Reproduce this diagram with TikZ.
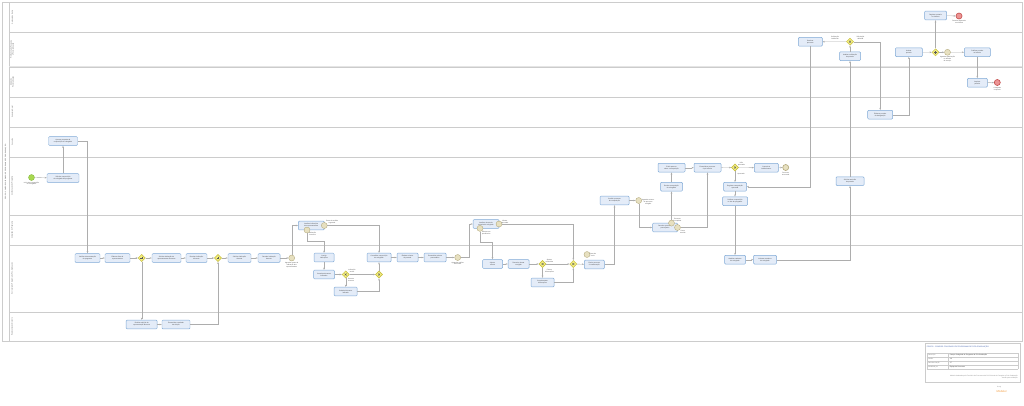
\documentclass[tikz,border=0pt]{standalone}
\usepackage{fontspec}
\setmainfont{Liberation Sans}
\usetikzlibrary{positioning, arrows.meta, shapes.geometric}

\definecolor{taskfill}{HTML}{E4ECF8}
\definecolor{taskline}{HTML}{7EA9D6}
\definecolor{flowline}{HTML}{ADADAD}
\definecolor{laneline}{HTML}{CCCCCC}
\definecolor{gatefill}{HTML}{F3EE7E}
\definecolor{gateline}{HTML}{C4BA3E}
\definecolor{midfill}{HTML}{E7E0C0}
\definecolor{midline}{HTML}{B3A97C}
\definecolor{startfill}{HTML}{A8D850}
\definecolor{startline}{HTML}{84B83C}
\definecolor{endfill}{HTML}{EC9494}
\definecolor{endline}{HTML}{C4504E}
\definecolor{titleblue}{HTML}{3A5BA8}
\definecolor{bizorange}{HTML}{F29A3C}

\newcommand{\tsz}{\fontsize{2.3}{2.8}\selectfont}
\newcommand{\ttsz}{\fontsize{2.6}{3.1}\selectfont}

\tikzset{
    >={Stealth[length=1.1mm, width=0.8mm]},
    flow/.style={->, draw=flowline, line width=0.45pt},
    lane/.style={draw=laneline, line width=0.6pt},
    task/.style={draw=taskline, fill=taskfill, line width=0.7pt, rounded corners=0.5mm,
        minimum width=#1, minimum height=4.4mm, inner sep=0.3mm, align=center,
        font=\tsz, text=black!75},
    task/.default=12mm,
    gate/.style={diamond, draw=gateline, fill=gatefill, line width=0.6pt,
        minimum size=3.6mm, inner sep=0pt},
    gatemark/.style={draw=black!65, line width=0.5pt},
    evstart/.style={circle, draw=startline, fill=startfill, line width=0.5pt,
        minimum size=3mm, inner sep=0pt},
    evmid/.style={circle, draw=midline, fill=midfill, line width=0.5pt,
        minimum size=3mm, inner sep=0pt},
    evend/.style={circle, draw=endline, fill=endfill, line width=0.9pt,
        minimum size=3mm, inner sep=0pt},
    lbl/.style={font=\tsz, align=center, inner sep=0.2mm, text=black!70},
    lanelbl/.style={font=\tsz, align=center, inner sep=0pt, text=black!70, rotate=90}
}

\begin{document}
\begin{tikzpicture}[x=0.5mm, y=-0.5mm]
    \useasboundingbox (0,0) rectangle (1024,405);

    % pool and lanes
    \draw[lane] (2,2.5) rectangle (1021.7,341.7);
    \draw[lane] (9.3,2.5) -- (9.3,341.7);
    \fill[black!10] (9.3,66) rectangle (1021.7,68);
    \foreach \y in {32,67,97,127,157,215,245,312}
        \draw[lane] (9.3,\y) -- (1021.7,\y);

    \node[lanelbl] (pool) at (5.7,172) {PROPG - COMPOR COLEGIADO DE PROGRAMA DE PÓS-GRADUAÇÃO};
    \node[lanelbl] (l1) at (12.3,17.3) {Gabinete do Reitor};
    \node[lanelbl] (l2) at (12.3,49.5) {Pró-Reitoria de Pesquisa\\ e Pós-Graduação};
    \node[lanelbl] (l3) at (12.3,82) {Divisão de\\ Pós-Graduação};
    \node[lanelbl] (l4) at (12.3,112) {Secretaria Geral};
    \node[lanelbl] (l5) at (12.3,142) {Conselho};
    \node[lanelbl] (l6) at (12.3,186) {Coordenação do Programa};
    \node[lanelbl] (l7) at (12.3,230) {Colegiado do Programa};
    \node[lanelbl] (l8) at (12.3,278.5) {Secretaria do Programa de Pós-Graduação};
    \node[lanelbl] (l9) at (12.3,326.8) {Representação Discente};

    % tasks
    \node[task=16mm] (t1) at (63,178) {Solicitar composição\\ do colegiado do programa};
    \node[task=14.5mm] (t2) at (63,141) {Aprovar proposta de\\ composição do colegiado};
    \node[task=12.5mm] (t3) at (87.5,258) {Verificar documentação\\ do programa};
    \node[task=12.5mm] (t4) at (117.5,258) {Elaborar lista de\\ representantes};
    \node[task=14.5mm] (t5) at (166.5,258) {Solicitar indicação de\\ representantes discentes};
    \node[task=10.5mm] (t6) at (196.5,258) {Receber indicação\\ discente};
    \node[task=11.5mm] (t7) at (239.5,258) {Solicitar indicação\\ docente};
    \node[task=11mm] (t8) at (269,258) {Receber indicação\\ docente};
    \node[task=15.5mm] (t9) at (141.7,324.5) {Realizar eleição da\\ representação discente};
    \node[task=14mm] (t10) at (176,324.5) {Encaminhar resultado\\ da eleição};
    \node[task=13mm] (t11) at (311.3,225.5) {Analisar indicações\\ dos representantes};
    \node[task=10mm] (t12) at (324,257.5) {Corrigir\\ indicações};
    \node[task=10.5mm] (t13) at (324,274.5) {Consultar docentes\\ indicados};
    \node[task=11.5mm] (t14) at (345.7,291.5) {Substituir docente\\ indicado};
    \node[task=12mm] (t15) at (379,257.5) {Consolidar composição\\ do colegiado};
    \node[task=10.5mm] (t16) at (407.5,257.5) {Elaborar minuta\\ de portaria};
    \node[task=11mm] (t17) at (435,257.5) {Encaminhar minuta\\ para análise};
    \node[task=13mm] (t18) at (486,224) {Analisar minuta de\\ portaria do colegiado};
    \node[task=10mm] (t19) at (492.5,264) {Ajustar\\ minuta};
    \node[task=10.5mm] (t20) at (518.5,264) {Reenviar minuta\\ corrigida};
    \node[task=11.5mm] (t21) at (542.5,282.5) {Complementar\\ informações};
    \node[task=10mm] (t22) at (594.3,264.5) {Enviar processo\\ à coordenação};
    \node[task=14.5mm] (t23) at (614.5,200.5) {Conferir processo\\ de composição};
    \node[task=12.5mm] (t24) at (665,227.5) {Devolver processo\\ para ajustes};
    \node[task=11mm] (t25) at (671.5,186.7) {Revisar composição\\ do colegiado};
    \node[task=13.5mm] (t26) at (671.5,167.7) {Emitir parecer\\ sobre a composição};
    \node[task=13.5mm] (t27) at (707.5,167.7) {Encaminhar processo\\ à pró-reitoria};
    \node[task=12mm] (t28) at (766.3,167.7) {Comunicar\\ indeferimento};
    \node[task=11.5mm] (t29) at (735,186.7) {Registrar composição\\ aprovada};
    \node[task=12.5mm] (t30) at (735,201.2) {Publicar composição\\ no site do programa};
    \node[task=10.5mm] (t31) at (735,259.7) {Atualizar cadastro\\ do colegiado};
    \node[task=11.5mm] (t32) at (765,259.7) {Informar membros\\ do colegiado};
    \node[task=14mm] (t33) at (850,181.2) {Solicitar emissão\\ de portaria};
    \node[task=10.5mm] (t34) at (850,56.2) {Analisar solicitação\\ de portaria};
    \node[task=12mm] (t35) at (810.3,41.8) {Devolver\\ processo};
    \node[task=12.5mm] (t36) at (880.2,114.7) {Elaborar portaria\\ de designação};
    \node[task=13.5mm] (t37) at (908.8,52.2) {Assinar\\ portaria};
    \node[task=13mm] (t38) at (977.3,52.2) {Publicar portaria\\ no boletim};
    \node[task=11mm] (t39) at (935.5,15.5) {Registrar portaria\\ no sistema};
    \node[task=10mm] (t40) at (977.3,82.8) {Arquivar\\ portaria};

    % gateways
    \node[gate] (g1) at (141.7,258) {};
    \node[gate] (g2) at (218,258) {};
    \node[gate] (g3) at (345.7,274.5) {};
    \node[gate] (g4) at (379,274.5) {};
    \node[gate] (g5) at (542.5,264) {};
    \node[gate] (g6) at (573.3,264) {};
    \node[gate] (g7) at (735,167.5) {};
    \node[gate] (g8) at (850,41.7) {};
    \node[gate] (g9) at (935.5,52.3) {};
    \foreach \g in {g1,g2,g9}
        \draw[gatemark] (\g.center) +(0,-1.3) -- +(0,1.3) +(-1.3,0) -- +(1.3,0);
    \foreach \g in {g3,g4,g5,g6,g7,g8}
        \draw[gatemark] (\g.center) +(-1,-1) -- +(1,1) +(-1,1) -- +(1,-1);

    % events
    \node[evstart] (s0) at (31.5,177.5) {};
    \node[evmid] (e1) at (291.7,258) {};
    \node[evmid] (e2) at (457.7,257.5) {};
    \node[evmid] (e3) at (638.7,200.5) {};
    \node[evmid, line width=0.9pt] (e4) at (785.7,167.5) {};
    \node[evmid] (e5) at (947.5,52.3) {};
    \node[evend] (e6) at (959,16) {};
    \node[evend] (e7) at (997.3,82.5) {};
    \node[evmid] (b1) at (324.3,225.5) {};
    \node[evmid] (b2) at (307,230) {};
    \node[evmid] (b3) at (499,224) {};
    \node[evmid] (b4) at (480,228.4) {};
    \node[evmid] (b5) at (587,254.5) {};
    \node[evmid] (b6) at (671.5,223.1) {};
    \node[evmid] (b7) at (677.5,227.5) {};

    % labels
    \node[lbl, below=0.3mm of s0] (s0l) {Início da composição\\ do colegiado};
    \node[lbl, below=0.3mm of e1] (e1l) {Aguardar prazo de\\ indicação dos\\ representantes};
    \node[lbl, below=0.3mm of e2] (e2l) {Aguardar análise\\ da minuta};
    \node[lbl, anchor=west] (e3l) at (641.5,202.5) {Aguardar retorno\\ do processo\\ corrigido};
    \node[lbl, below=0.3mm of e4] (e4l) {Processo\\ encerrado};
    \node[lbl, below=0.3mm of e5] (e5l) {Aguardar publicação\\ no boletim\\ de serviço};
    \node[lbl, below=0.3mm of e6] (e6l) {Portaria registrada\\ no sistema};
    \node[lbl, below=0.3mm of e7] (e7l) {Colegiado\\ composto};
    \node[lbl, anchor=south west] (b1l) at (325.5,224) {Prazo de análise\\ esgotado};
    \node[lbl, anchor=west] (b2l) at (308.5,233.5) {Indicação\\ incorreta};
    \node[lbl, anchor=south west] (b3l) at (501,224) {Minuta\\ aprovada};
    \node[lbl, anchor=west] (b4l) at (481.5,233) {Minuta com\\ pendências};
    \node[lbl, anchor=west] (b5l) at (589,254.5) {Prazo de\\ envio};
    \node[lbl, anchor=south west] (b6l) at (673,222) {Processo\\ incompleto};
    \node[lbl, anchor=north west] (b7l) at (679.5,229.5) {Prazo\\ vencido};
    \node[lbl, anchor=south west] (g3l) at (348,273.5) {Indicação\\ aceita};
    \node[lbl, anchor=west] (g3d) at (347.5,279.5) {Docente\\ recusou};
    \node[lbl, anchor=south west] (g5l) at (545,263) {Ajustes\\ concluídos};
    \node[lbl, anchor=west] (g5d) at (544.5,271) {Faltam\\ informações};
    \node[lbl, anchor=south west] (g7l) at (737.5,166.5) {Não\\ aprovada};
    \node[lbl, anchor=west] (g7d) at (737,174) {Aprovada};
    \node[lbl, anchor=south] (g8l) at (835,40.5) {Solicitação\\ indeferida};
    \node[lbl, anchor=south west] (g8r) at (856,40.5) {Solicitação\\ deferida};

    % flows
    \draw[flow] (s0) -- (t1);
    \draw[flow] (t1) -- (t2);
    \draw[flow] (t2.east) -| (t3.north);
    \draw[flow] (t3) -- (t4);
    \draw[flow] (t4) -- (g1);
    \draw[flow] (g1) -- (t5);
    \draw[flow] (t5) -- (t6);
    \draw[flow] (t6) -- (g2);
    \draw[flow] (g2) -- (t7);
    \draw[flow] (t7) -- (t8);
    \draw[flow] (t8) -- (e1);
    \draw[flow] (g1) -- (t9);
    \draw[flow] (t9) -- (t10);
    \draw[flow] (t10.east) -| (g2.south);
    \draw[flow] (e1.north) |- (t11.west);
    \draw[flow] (b2.south) -- ++(0,8) -| (t12.north);
    \draw[flow] (b1.east) -| (t15.north);
    \draw[flow] (t12) -- (t13);
    \draw[flow] (t13) -- (g3);
    \draw[flow] (g3) -- (g4);
    \draw[flow] (g3) -- (t14);
    \draw[flow] (t14.east) -| (g4.south);
    \draw[flow] (g4) -- (t15);
    \draw[flow] (t15) -- (t16);
    \draw[flow] (t16) -- (t17);
    \draw[flow] (t17) -- (e2);
    \draw[flow] (e2.east) -- ++(8,0) |- (t18.west);
    \draw[flow] (b3.east) -| (g6.north);
    \draw[flow] (b4.south) -- ++(0,11) -| (t19.north);
    \draw[flow] (t19) -- (t20);
    \draw[flow] (t20) -- (g5);
    \draw[flow] (g5) -- (g6);
    \draw[flow] (g5) -- (t21);
    \draw[flow] (t21.east) -| (g6.south);
    \draw[flow] (g6) -- (t22);
    \draw[flow] (t22.east) -| (t23.south);
    \draw[flow] (t23) -- (e3);
    \draw[flow] (e3.south) |- (t24.west);
    \draw[flow] (b6) -- (t25);
    \draw[flow] (t25) -- (t26);
    \draw[flow] (t26) -- (t27);
    \draw[flow] (b7.east) -| (t27.south);
    \draw[flow] (t27) -- (g7);
    \draw[flow] (g7) -- (t28);
    \draw[flow] (t28) -- (e4);
    \draw[flow] (g7) -- (t29);
    \draw[flow] (t29) -- (t30);
    \draw[flow] (t30) -- (t31);
    \draw[flow] (t31) -- (t32);
    \draw[flow] (t32.east) -| (t33.south);
    \draw[flow] (t33) -- (t34);
    \draw[flow] (t34) -- (g8);
    \draw[flow] (g8) -- (t35);
    \draw[flow] (t35.south) |- (t29.east);
    \draw[flow] (g8.east) -| (t36.north);
    \draw[flow] (t36.east) -| (t37.south);
    \draw[flow] (t37) -- (g9);
    \draw[flow] (g9) -- (e5);
    \draw[flow] (e5) -- (t38);
    \draw[flow] (g9) -- (t39);
    \draw[flow] (t39) -- (e6);
    \draw[flow] (t38) -- (t40);
    \draw[flow] (t40) -- (e7);

    % title block
    \draw[lane, line width=0.4pt] (925,343.3) rectangle (1020,381.7);
    \node[anchor=west, font=\ttsz, text=titleblue, inner sep=0pt] (ttl) at (926.7,346.5)
        {PROPG - COMPOR COLEGIADO DE PROGRAMA DE PÓS-GRADUAÇÃO};
    \foreach \y in {353.3,357.3,361.3,365.3,369.3}
        \draw[lane, line width=0.3pt] (926.7,\y) -- (1018.3,\y);
    \draw[lane, line width=0.3pt] (926.7,353.3) -- (926.7,369.3);
    \draw[lane, line width=0.3pt] (948.3,353.3) -- (948.3,369.3);
    \draw[lane, line width=0.3pt] (1018.3,353.3) -- (1018.3,369.3);
    \foreach \y/\k/\v [count=\i] in {355.3/Descrição/Compor Colegiado de Programa de Pós-Graduação,
            359.3/Versão/1.0, 363.3/Data da criação/17/09/2018, 367.3/Modelado por/Equipe de Processos}
    {
        \node[lbl, anchor=west, text=black!55] (k\i) at (927.7,\y) {\k};
        \node[lbl, anchor=west, text=black!85] (v\i) at (949.3,\y) {\v};
    }
    \node[lbl, anchor=east, align=right, text=black!50] (foot) at (1018.3,377)
        {Modelo elaborado pelo Escritório de Processos da Pró-Reitoria de Pesquisa e Pós-Graduação\\ Versão para validação};
    \node[lbl, anchor=west, text=black!40] (biz) at (996.5,387.5) {bizagi};
    \node[anchor=west, inner sep=0pt, font=\fontsize{4}{4}\selectfont, text=bizorange] (mod) at (996.5,391) {Modeler};
\end{tikzpicture}
\end{document}
